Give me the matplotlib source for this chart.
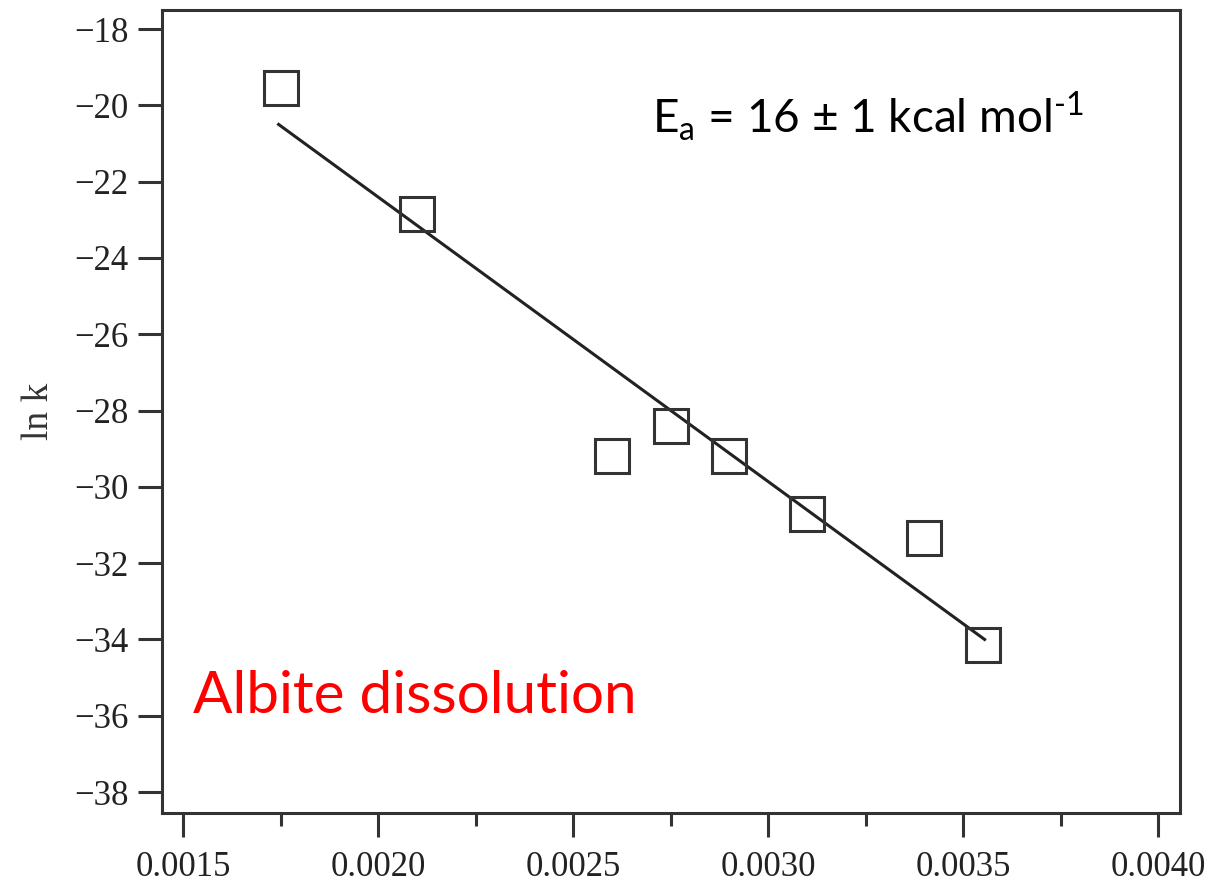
import numpy as np
import matplotlib
matplotlib.use('Agg')
from matplotlib import pyplot as plt

# Datos
inv_T = [0.00175, 0.0021, 0.0026, 0.00275, 0.0029, 0.0031, 0.0034, 0.00355]
ln_k = [-19.55, -22.85, -29.2, -28.4, -29.2, -30.7, -31.35, -34.15]

# Recta de ajuste (extremos)
fit_x = [0.001745, 0.003555]
fit_y = [-20.5, -34.0]

x_ticks = [0.0015, 0.0020, 0.0025, 0.0030, 0.0035, 0.0040]
x_minor = [0.00175, 0.00225, 0.00275, 0.00325, 0.00375]
y_ticks = [-18, -20, -22, -24, -26, -28, -30, -32, -34, -36, -38]

fig = plt.figure(figsize=(12.26, 8.82), dpi=100)
ax = fig.add_axes([0.1321, 0.0782, 0.8304, 0.9105])

ax.plot(fit_x, fit_y, color='#222222', lw=2.2)
ax.plot(inv_T, ln_k, 's', ms=25, mfc='none', mec='#333333', mew=2.2)

ax.set_xlim(0.001446, 0.004056)
ax.set_ylim(-38.55, -17.5)

ax.set_xticks(x_ticks)
ax.set_xticklabels(['%.4f' % v for v in x_ticks])
ax.set_xticks(x_minor, minor=True)
ax.set_yticks(y_ticks)
ax.set_yticklabels(['\u2212%d' % abs(v) for v in y_ticks])

for s in ax.spines.values():
    s.set_linewidth(2.2)
    s.set_color('#333333')

ax.tick_params(axis='both', which='major', direction='out', length=17,
               width=2.2, color='#333333', labelsize=25, labelcolor='#222222')
ax.tick_params(axis='x', which='major', pad=10)
ax.tick_params(axis='y', which='major', pad=7)
ax.tick_params(axis='x', which='minor', direction='out', length=9,
               width=2.2, color='#333333')
for lab in ax.get_xticklabels() + ax.get_yticklabels():
    lab.set_family('Liberation Serif')

ax.set_ylabel('ln k', family='Liberation Serif', fontsize=27,
              color='#333333', labelpad=13)

plt.rcParams['mathtext.fontset'] = 'custom'
plt.rcParams['mathtext.rm'] = 'Lato'
ax.text(0.481, 0.847, r'E$_\mathregular{a}$ = 16 ± 1 kcal mol$^{\text{-1}}$',
        transform=ax.transAxes, family='Lato', fontsize=33, color='black')
ax.text(0.0305, 0.1245, 'Albite dissolution', transform=ax.transAxes,
        family='Lato', fontsize=42, color='red')

fig.savefig('out.png', dpi=100)
